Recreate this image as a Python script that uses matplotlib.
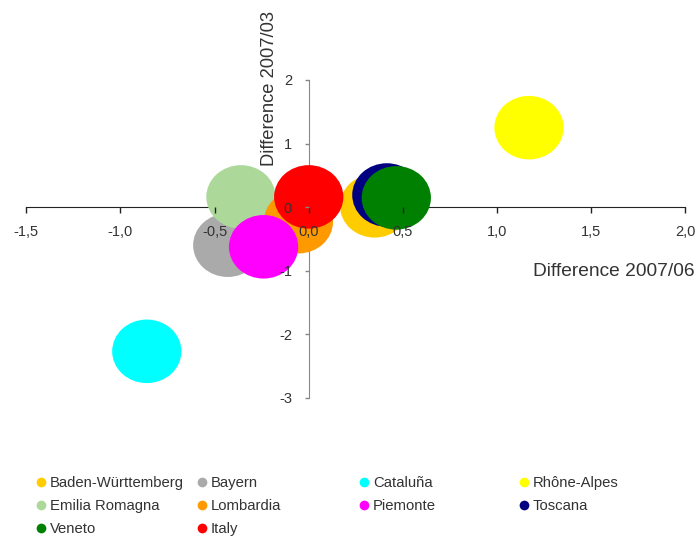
import matplotlib
matplotlib.use('Agg')
from matplotlib import pyplot as plt
from matplotlib.patches import Ellipse
from matplotlib.lines import Line2D

plt.rcParams['font.family'] = ['Liberation Sans', 'DejaVu Sans']

regions = ['Baden-Württemberg', 'Bayern', 'Cataluña', 'Rhône-Alpes',
           'Emilia Romagna', 'Lombardia', 'Piemonte', 'Toscana',
           'Veneto', 'Italy']
diff_0706 = [0.35, -0.43, -0.86, 1.17, -0.36, -0.055, -0.24, 0.415, 0.465, 0.0]
diff_0703 = [0.02, -0.60, -2.27, 1.25, 0.16, -0.23, -0.625, 0.19, 0.145, 0.16]
colors = ['#ffcc00', '#aaaaaa', '#00ffff', '#ffff00', '#acd89a',
          '#ff9900', '#ff00ff', '#000080', '#008000', '#ff0000']

x_ticks = [-1.5, -1.0, -0.5, 0.0, 0.5, 1.0, 1.5, 2.0]
x_labels = ['-1,5', '-1,0', '-0,5', '0,0', '0,5', '1,0', '1,5', '2,0']
y_ticks = [-3, -2, -1, 0, 1, 2]
y_labels = ['-3', '-2', '-1', '0', '1', '2']

txt = '#333333'

fig = plt.figure(figsize=(6.99, 5.39), dpi=100)
ax = fig.add_axes([26.3 / 699, 141.3 / 539, 659 / 699, 317.7 / 539])
ax.set_xlim(-1.5, 2.0)
ax.set_ylim(-3, 2)

# bubbles, all the same size
for x, y, c in zip(diff_0706, diff_0703, colors):
    ax.add_patch(Ellipse((x, y), 0.368, 1.0, facecolor=c, edgecolor='none',
                         zorder=1, clip_on=False))

# axes crossing at the origin
ax.spines['left'].set_position(('data', 0))
ax.spines['bottom'].set_position(('data', 0))
ax.spines['right'].set_visible(False)
ax.spines['top'].set_visible(False)
ax.spines['left'].set_color('#888888')
ax.spines['bottom'].set_color('#222222')
ax.spines['left'].set_zorder(0.5)
ax.spines['bottom'].set_zorder(0.5)

ax.set_xticks(x_ticks)
ax.set_xticklabels(x_labels)
ax.set_yticks(y_ticks)
ax.set_yticklabels(y_labels)
ax.tick_params(axis='x', direction='out', length=4, width=1, color='#222222',
               labelsize=10.5, labelcolor=txt, pad=9)
ax.tick_params(axis='y', direction='out', length=3, width=1, color='#888888',
               labelsize=10.5, labelcolor=txt, pad=9)
ax.patch.set_visible(False)

fig.text(695 / 699, 1 - 271 / 539, 'Difference 2007/06', ha='right', va='center',
         fontsize=13.8, color=txt)
fig.text(269 / 699, 1 - 88 / 539, 'Difference 2007/03', ha='center', va='center',
         rotation=90, fontsize=13.2, color=txt)

# legend, one column at a time, rows read left to right
handles = [Line2D([], [], marker='o', linestyle='none', markersize=7,
                  markerfacecolor=c, markeredgecolor='none') for c in colors]
col_x = [36, 197, 359, 519]
for col in range(4):
    idx = list(range(col, len(regions), 4))
    leg = fig.legend([handles[i] for i in idx], [regions[i] for i in idx],
                     loc='upper left', bbox_to_anchor=(col_x[col] / 699, 1 - 476 / 539),
                     frameon=False, fontsize=10.7, handlelength=0.7,
                     handletextpad=0.25, borderaxespad=0, borderpad=0,
                     labelspacing=0.6)
    for t in leg.get_texts():
        t.set_color(txt)

fig.savefig('out.png', dpi=100)
